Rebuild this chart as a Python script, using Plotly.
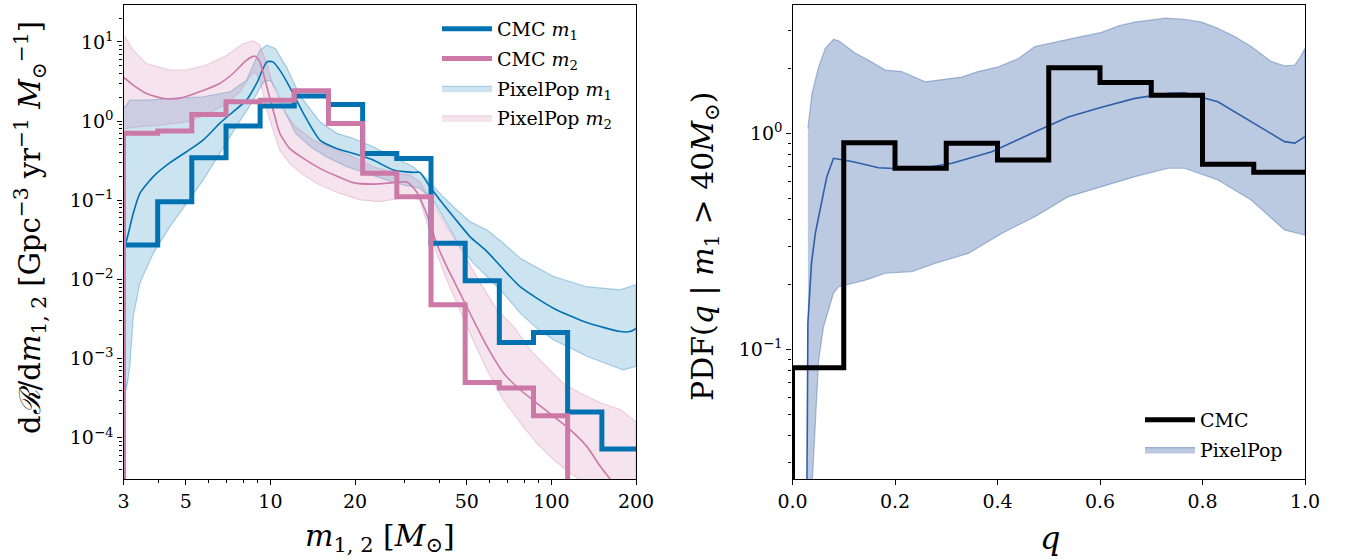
import plotly.graph_objects as go

# ---------------- left panel: mass spectra ----------------
mass_bin_edges = [3.0, 3.97, 5.25, 6.95, 9.19, 12.16, 16.09, 21.29, 28.17,
                  37.28, 49.32, 65.26, 86.34, 114.2, 151.2, 200.0]
cmc_m1_rate = [0.0273, 0.096, 0.344, 0.865, 1.55, 2.07, 1.62, 0.391, 0.338,
               0.0286, 0.0096, 0.0016, 0.00214, 2.12e-4, 7.2e-5]
cmc_m2_rate = [0.70, 0.75, 1.21, 1.75, 1.84, 2.41, 0.935, 0.219, 0.111,
               0.0048, 5.0e-4, 4.26e-4, 1.9e-4, 0.0, 0.0]

# PixelPop m1: median and 90% band
pp_m1_med_mass = [3.0, 3.08, 3.25, 3.43, 3.83, 4.39, 5.03, 5.76, 6.6, 7.36, 8.22,
                  8.93, 9.71, 10.2, 10.8, 11.7, 13.1, 15.0, 17.2, 19.7, 23.2,
                  27.4, 32.2, 34.0, 36.9, 40.1, 44.8, 51.3, 59.0, 77.4, 101.7,
                  133.6, 175.6, 191.0, 200.0]
pp_m1_med = [0.025, 0.0316, 0.0686, 0.1225, 0.199, 0.298, 0.41, 0.576, 0.935,
             1.31, 1.84, 2.99, 5.6, 5.6, 4.4, 2.71, 1.25, 0.575, 0.452, 0.391,
             0.322, 0.241, 0.225, 0.225, 0.149, 0.101, 0.062, 0.0348, 0.0225,
             0.0081, 0.00434, 0.00286, 0.0022, 0.0022, 0.0024]
pp_m1_hi_mass = [3.0, 3.04, 3.16, 3.62, 4.39, 5.76, 7.2, 8.22, 9.17, 9.71, 10.4,
                 11.4, 12.7, 15.0, 17.2, 19.7, 23.2, 27.4, 32.2, 35.9, 40.1,
                 44.8, 51.3, 59.0, 67.5, 77.4, 101.7, 133.6, 175.6, 200.0]
pp_m1_hi = [1.45, 1.51, 1.84, 1.84, 1.93, 2.03, 2.35, 3.29, 7.85, 9.08, 8.26,
            4.84, 2.13, 0.98, 0.70, 0.605, 0.475, 0.355, 0.265, 0.189, 0.122,
            0.083, 0.0537, 0.0422, 0.0286, 0.0185, 0.0109, 0.0081, 0.0074,
            0.0086]
pp_m1_lo_mass = [3.0, 3.07, 3.16, 3.25, 3.43, 3.83, 4.39, 5.03, 5.76, 6.6, 7.55,
                 8.69, 9.45, 10.0, 10.5, 11.4, 12.3, 13.9, 15.8, 18.7, 22.0,
                 26.0, 29.7, 34.0, 37.9, 42.4, 47.3, 52.7, 59.0, 67.5, 77.4,
                 88.6, 101.7, 133.6, 166.0, 180.0, 200.0]
pp_m1_lo = [1.2e-3, 4.0e-4, 8.0e-4, 0.0034, 0.009, 0.0215, 0.0465, 0.0916,
            0.18, 0.391, 0.847, 1.84, 3.13, 3.29, 2.46, 1.19, 0.70, 0.475,
            0.355, 0.265, 0.219, 0.18, 0.156, 0.142, 0.101, 0.051, 0.026,
            0.0161, 0.0109, 0.0067, 0.00376, 0.00243, 0.00173, 0.00107, 8.0e-4,
            7.2e-4, 8.0e-4]

# PixelPop m2: median and 90% band
pp_m2_med_mass = [3.0, 3.04, 3.25, 3.62, 4.17, 4.76, 5.6, 6.6, 7.36, 8.22, 8.8,
                  9.17, 9.71, 10.3, 10.8, 11.7, 13.1, 15.0, 17.2, 19.7, 23.2,
                  27.4, 30.6, 33.1, 35.9, 39.0, 42.4, 47.3, 52.7, 59.0, 67.5,
                  77.4, 88.6, 101.7, 116.5, 133.6, 149.0, 162.0, 200.0]
pp_m2_med = [3.55, 3.45, 2.84, 2.23, 1.93, 1.95, 2.35, 2.99, 3.99, 5.87, 6.6,
             5.6, 2.71, 1.25, 0.70, 0.452, 0.338, 0.253, 0.202, 0.167, 0.16,
             0.167, 0.17, 0.128, 0.0686, 0.0286, 0.0146, 0.0067, 0.0031,
             0.00143, 6.6e-4, 4.05e-4, 2.75e-4, 1.87e-4, 1.27e-4, 7.8e-5,
             4.4e-5, 3.0e-5, 1.2e-5]
pp_m2_hi_mass = [3.0, 3.04, 3.25, 3.62, 4.39, 5.03, 5.9, 7.0, 8.0, 8.7, 9.17,
                 9.71, 10.3, 11.1, 12.3, 14.2, 16.7, 19.7, 23.2, 28.2, 31.4,
                 34.0, 37.9, 42.4, 48.6, 55.9, 64.1, 73.4, 83.9, 96.0, 110.0,
                 126.0, 150.0, 176.0, 200.0]
pp_m2_hi = [12.0, 11.6, 7.85, 5.33, 4.4, 4.45, 5.08, 6.8, 9.55, 10.3, 9.08,
            5.33, 2.58, 1.38, 0.847, 0.575, 0.452, 0.355, 0.265, 0.219, 0.208,
            0.172, 0.0916, 0.0465, 0.0215, 0.009, 0.00414, 0.00255, 0.0013,
            8.0e-4, 4.9e-4, 3.7e-4, 2.75e-4, 2.27e-4, 1.6e-4]
pp_m2_lo_mass = [3.0, 3.04, 3.43, 4.08, 5.03, 5.9, 7.0, 7.8, 8.45, 8.8, 9.17,
                 9.71, 10.3, 10.8, 11.7, 13.1, 15.0, 17.7, 20.9, 24.4, 28.2,
                 31.4, 34.0, 35.9, 39.0, 42.4, 47.3, 52.7, 59.0, 67.5, 77.4,
                 88.6, 101.7, 116.5, 126.0, 160.0, 200.0]
pp_m2_lo = [0.80, 0.81, 0.85, 0.89, 0.98, 1.19, 1.67, 2.35, 3.62, 4.19, 3.29,
            1.38, 0.70, 0.43, 0.292, 0.208, 0.156, 0.122, 0.101, 0.096, 0.103,
            0.11, 0.101, 0.0565, 0.0215, 0.0099, 0.0041, 0.0017, 7.2e-4,
            3.0e-4, 1.54e-4, 8.6e-5, 5.3e-5, 3.6e-5, 3.0e-5, 1.5e-5, 8.0e-6]

# ---------------- right panel: mass ratio for m1 > 40 Msun ----------------
q_bin_edges = [0.0, 0.1, 0.2, 0.3, 0.4, 0.5, 0.6, 0.7, 0.8, 0.9, 1.0]
cmc_q_pdf = [0.0822, 0.905, 0.689, 0.90, 0.752, 2.01, 1.72, 1.50, 0.718, 0.66]

pp_q_med_q = [0.028, 0.030, 0.037, 0.0445, 0.051, 0.067, 0.080, 0.09, 0.116,
              0.168, 0.239, 0.311, 0.389, 0.467, 0.538, 0.603, 0.668, 0.733,
              0.765, 0.830, 0.895, 0.960, 0.98, 1.0]
pp_q_med = [0.02, 0.132, 0.25, 0.344, 0.41, 0.63, 0.766, 0.76, 0.74, 0.693,
            0.68, 0.726, 0.822, 1.0, 1.19, 1.32, 1.45, 1.53, 1.54, 1.40, 1.13,
            0.915, 0.90, 0.965]
pp_q_hi_q = [0.030, 0.038, 0.051, 0.064, 0.080, 0.09, 0.122, 0.148, 0.181,
             0.213, 0.259, 0.298, 0.33, 0.362, 0.402, 0.441, 0.473, 0.538,
             0.603, 0.636, 0.668, 0.727, 0.765, 0.798, 0.830, 0.863, 0.895,
             0.934, 0.960, 0.98, 0.991, 1.0]
pp_q_hi = [1.05, 1.53, 2.03, 2.47, 2.72, 2.68, 2.35, 2.18, 1.96, 1.93, 1.73,
           1.78, 1.82, 1.93, 2.03, 2.22, 2.52, 2.72, 2.93, 3.14, 3.27, 3.41,
           3.37, 3.27, 3.06, 2.80, 2.52, 2.15, 2.05, 2.07, 2.26, 2.47]
pp_q_lo_q = [0.030, 0.035, 0.0445, 0.051, 0.0605, 0.07, 0.08, 0.09, 0.142,
             0.181, 0.233, 0.278, 0.343, 0.408, 0.473, 0.538, 0.603, 0.668,
             0.733, 0.765, 0.830, 0.895, 0.960, 1.0]
pp_q_lo = [0.01, 0.02, 0.0488, 0.089, 0.127, 0.152, 0.182, 0.195, 0.209,
           0.225, 0.229, 0.25, 0.278, 0.344, 0.411, 0.509, 0.566, 0.63, 0.689,
           0.689, 0.608, 0.491, 0.357, 0.338]

# ---------------- styling ----------------
W, H = 1353, 560
SERIF = "DejaVu Serif"
BLUE = "#0072b2"
PINK = "#cc79a7"
QBLUE = "#4c72b0"
LEFT_X = (123.5 / W, 636.0 / W)
RIGHT_X = (792.5 / W, 1305.0 / W)
PLOT_Y = ((H - 479.0) / H, (H - 4.7) / H)
FLOOR = 1e-8


def step_xy(edges, vals):
    """Histogram outline as a step line rising from the baseline at the first edge."""
    ys = [max(v, FLOOR) for v in vals]
    xs = [edges[0]] + list(edges[:-1]) + [edges[-1]]
    ys = [FLOOR] + ys + [ys[-1]]
    return xs, ys


def band_xy(lo_x, lo, hi_x, hi):
    return list(hi_x) + list(lo_x)[::-1], list(hi) + list(lo)[::-1]


def rgba(hex_color, a):
    h = hex_color.lstrip("#")
    r, g, b = int(h[0:2], 16), int(h[2:4], 16), int(h[4:6], 16)
    return f"rgba({r},{g},{b},{a})"


fig = go.Figure()

# legend entries (empty proxy traces, listed in legend order)
band_m1_style = dict(fillcolor=rgba(BLUE, 0.2), line=dict(color=rgba(BLUE, 0.3), width=1.2))
band_m2_style = dict(fillcolor=rgba(PINK, 0.2), line=dict(color=rgba(PINK, 0.3), width=1.2))
band_q_style = dict(fillcolor=rgba(QBLUE, 0.38), line=dict(color=rgba(QBLUE, 0.45), width=1.2))

legend_entries = [
    ("legend", "CMC <i>m</i><sub>1</sub>", dict(mode="lines", line=dict(color=BLUE, width=5))),
    ("legend", "CMC <i>m</i><sub>2</sub>", dict(mode="lines", line=dict(color=PINK, width=5))),
    ("legend", "PixelPop <i>m</i><sub>1</sub>", dict(mode="lines", fill="toself", **band_m1_style)),
    ("legend", "PixelPop <i>m</i><sub>2</sub>", dict(mode="lines", fill="toself", **band_m2_style)),
    ("legend2", "CMC", dict(mode="lines", line=dict(color="black", width=5))),
    ("legend2", "PixelPop", dict(mode="lines", fill="toself", **band_q_style)),
]
for i, (leg, name, style) in enumerate(legend_entries):
    axes = dict(xaxis="x", yaxis="y") if leg == "legend" else dict(xaxis="x2", yaxis="y2")
    fig.add_trace(go.Scatter(x=[None], y=[None], name=name, legend=leg,
                             legendgroup=f"entry{i}", showlegend=True, **axes, **style))

# PixelPop bands (left)
for style, lo_x, lo, hi_x, hi in [
    (band_m1_style, pp_m1_lo_mass, pp_m1_lo, pp_m1_hi_mass, pp_m1_hi),
    (band_m2_style, pp_m2_lo_mass, pp_m2_lo, pp_m2_hi_mass, pp_m2_hi),
]:
    bx, by = band_xy(lo_x, lo, hi_x, hi)
    fig.add_trace(go.Scatter(x=bx, y=by, mode="lines", fill="toself", showlegend=False,
                             xaxis="x", yaxis="y", hoverinfo="skip", **style))

# PixelPop medians (left)
for color, mx, my in [(BLUE, pp_m1_med_mass, pp_m1_med), (PINK, pp_m2_med_mass, pp_m2_med)]:
    fig.add_trace(go.Scatter(
        x=mx, y=my, mode="lines", line=dict(color=color, width=1.6, shape="spline", smoothing=0.6),
        showlegend=False, xaxis="x", yaxis="y"))

# CMC histograms (left)
for color, vals in [(BLUE, cmc_m1_rate), (PINK, cmc_m2_rate)]:
    sx, sy = step_xy(mass_bin_edges, vals)
    fig.add_trace(go.Scatter(x=sx, y=sy, mode="lines", line=dict(color=color, width=5, shape="hv"),
                             showlegend=False, xaxis="x", yaxis="y"))

# PixelPop band and median (right)
bx, by = band_xy(pp_q_lo_q, pp_q_lo, pp_q_hi_q, pp_q_hi)
fig.add_trace(go.Scatter(x=bx, y=by, mode="lines", fill="toself", showlegend=False,
                         xaxis="x2", yaxis="y2", hoverinfo="skip", **band_q_style))
fig.add_trace(go.Scatter(x=pp_q_med_q, y=pp_q_med, mode="lines",
                         line=dict(color="#2f5ea8", width=1.6),
                         showlegend=False, xaxis="x2", yaxis="y2"))

# CMC histogram (right)
sx, sy = step_xy(q_bin_edges, cmc_q_pdf)
fig.add_trace(go.Scatter(x=sx, y=sy, mode="lines", line=dict(color="black", width=5, shape="hv"),
                         showlegend=False, xaxis="x2", yaxis="y2"))


def sup(n):
    return f"10<sup>{str(n).replace('-', '−')}</sup>"


def minor_log(lo_exp, hi_exp):
    return [k * 10.0 ** e for e in range(lo_exp, hi_exp + 1) for k in range(2, 10)]


tick_font = dict(family=SERIF, size=19, color="black")
axis_common = dict(showgrid=False, zeroline=False, showline=True, mirror=True,
                   linecolor="black", linewidth=1.3, ticks="outside", ticklen=5,
                   tickwidth=1.2, tickcolor="black", tickfont=tick_font, automargin=False)
minor_style = dict(ticklen=3, tickwidth=1, tickcolor="black", ticks="outside")

mass_ticks = [3, 5, 10, 20, 50, 100, 200]
mass_minor = [4, 6, 7, 8, 9, 30, 40, 60, 70, 80, 90]
rate_ticks = [1e-4, 1e-3, 1e-2, 1e-1, 1, 10]
q_ticks = [0.0, 0.2, 0.4, 0.6, 0.8, 1.0]

legend_common = dict(xanchor="left", yanchor="top",
                     font=dict(family=SERIF, size=19, color="black"),
                     bgcolor="rgba(255,255,255,0)", borderwidth=0,
                     tracegroupgap=2, itemwidth=50)

fig.update_layout(
    width=W, height=H,
    margin=dict(l=0, r=0, t=0, b=0, autoexpand=False),
    paper_bgcolor="white", plot_bgcolor="white",
    xaxis=dict(axis_common, type="log", domain=LEFT_X, anchor="y",
               range=[0.47712, 2.30103],
               tickvals=mass_ticks, ticktext=[str(v) for v in mass_ticks],
               minor=dict(minor_style, tickvals=mass_minor)),
    yaxis=dict(axis_common, type="log", domain=PLOT_Y, anchor="x",
               range=[-4.52, 1.47],
               tickvals=rate_ticks, ticktext=[sup(n) for n in [-4, -3, -2, -1, 0, 1]],
               minor=dict(minor_style, tickvals=minor_log(-5, 1))),
    xaxis2=dict(axis_common, type="linear", domain=RIGHT_X, anchor="y2",
                range=[0, 1], tickvals=q_ticks, ticktext=[f"{v:.1f}" for v in q_ticks]),
    yaxis2=dict(axis_common, type="log", domain=PLOT_Y, anchor="x2",
                range=[-1.60, 0.595],
                tickvals=[0.1, 1], ticktext=[sup(-1), sup(0)],
                minor=dict(minor_style, tickvals=minor_log(-2, 0))),
    legend=dict(legend_common, x=437 / W, y=1 - 10 / H),
    legend2=dict(legend_common, x=1140 / W, y=1 - 401 / H),
    annotations=[
        dict(text="d<i>ℛ</i>/d<i>m</i><sub>1, 2</sub> [Gpc<sup>−3</sup> yr<sup>−1</sup> <i>M</i><sub>⊙</sub><sup>−1</sup>]",
             x=30 / W, y=1 - 228 / H, xref="paper", yref="paper", textangle=-90,
             showarrow=False, xanchor="center", yanchor="middle",
             font=dict(family=SERIF, size=29, color="black")),
        dict(text="<i>m</i><sub>1, 2</sub> [<i>M</i><sub>⊙</sub>]",
             x=380 / W, y=1 - 537 / H, xref="paper", yref="paper",
             showarrow=False, xanchor="center", yanchor="middle",
             font=dict(family=SERIF, size=30, color="black")),
        dict(text="PDF(<i>q</i> | <i>m</i><sub>1</sub> > 40<i>M</i><sub>⊙</sub>)",
             x=704 / W, y=1 - 247 / H, xref="paper", yref="paper", textangle=-90,
             showarrow=False, xanchor="center", yanchor="middle",
             font=dict(family=SERIF, size=30, color="black")),
        dict(text="<i>q</i>",
             x=1050 / W, y=1 - 538 / H, xref="paper", yref="paper",
             showarrow=False, xanchor="center", yanchor="middle",
             font=dict(family=SERIF, size=32, color="black")),
    ],
)

fig.write_html("out.html")
